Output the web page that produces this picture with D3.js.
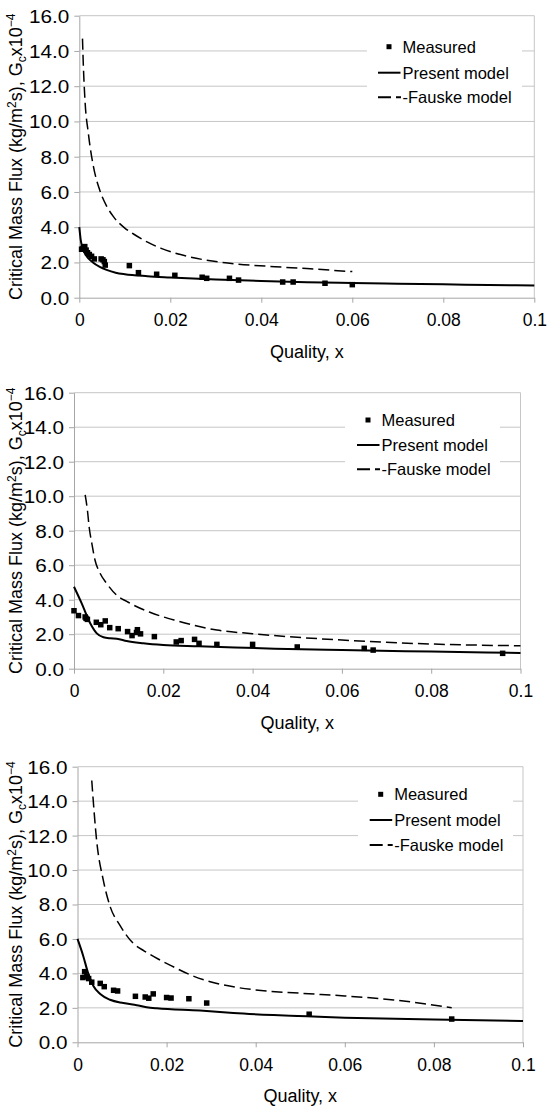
<!DOCTYPE html>
<html>
<head>
<meta charset="utf-8">
<script src="https://cdn.jsdelivr.net/npm/d3@7"></script>
<style>
  body { margin: 0; background: #fff; }
  text { font-family: "Liberation Sans", Arial, sans-serif; fill: #000; }
  .axis path, .axis line { stroke: #a6a6a6; }
</style>
</head>
<body>
<div id="chart"></div>
<script>
//-----------------------------DATA-----------------------------//
const xTicks = [0, 0.02, 0.04, 0.06, 0.08, 0.1];
const yTicks = [0, 2, 4, 6, 8, 10, 12, 14, 16];
const legendLabels = ["Measured", "Present model", "Fauske model"];
const xTitle = "Quality, x";

// panel 1
const measured1 = [[0.0005,2.75],[0.0008,2.8],[0.0012,2.9],[0.0015,2.7],[0.0018,2.55],[0.0022,2.45],
  [0.0027,2.35],[0.0033,2.2],[0.0048,2.2],[0.0052,2.15],[0.0055,2.05],[0.0057,1.85],[0.011,1.82],
  [0.013,1.42],[0.017,1.33],[0.021,1.27],[0.027,1.16],[0.028,1.1],[0.033,1.1],[0.035,1.0],
  [0.0447,0.89],[0.047,0.89],[0.054,0.82],[0.060,0.74]];
const present1 = [[0,4.0],[0.0003,3.3],[0.0008,2.75],[0.0015,2.4],[0.003,2.0],[0.0045,1.75],[0.006,1.58],
  [0.008,1.42],[0.01,1.33],[0.015,1.22],[0.02,1.15],[0.03,1.03],[0.04,0.95],[0.05,0.88],[0.06,0.83],
  [0.07,0.79],[0.08,0.76],[0.09,0.72],[0.1,0.69]];
const fauske1 = [[0.0007,14.7],[0.0009,13.1],[0.00125,11.2],[0.002,9.3],[0.0031,7.45],[0.0045,6.1],
  [0.006,5.2],[0.0075,4.6],[0.01,3.95],[0.012,3.6],[0.015,3.15],[0.018,2.8],[0.024,2.33],[0.03,2.05],
  [0.035,1.9],[0.043,1.76],[0.05,1.65],[0.06,1.48]];

// panel 2
const measured2 = [[0,3.36],[0.001,3.08],[0.0025,3.0],[0.0027,2.92],[0.003,2.86],[0.005,2.69],[0.006,2.55],
  [0.007,2.77],[0.008,2.38],[0.0099,2.32],[0.012,2.15],[0.013,1.92],[0.014,2.1],[0.0142,2.26],
  [0.0149,2.02],[0.018,1.86],[0.0229,1.55],[0.024,1.63],[0.027,1.7],[0.028,1.47],[0.032,1.41],
  [0.04,1.41],[0.05,1.26],[0.065,1.18],[0.067,1.08],[0.096,0.89]];
const present2 = [[0,4.75],[0.0017,3.8],[0.0036,2.65],[0.0051,2.05],[0.0066,1.82],[0.0081,1.76],[0.0096,1.74],
  [0.0118,1.6],[0.0155,1.47],[0.02,1.37],[0.028,1.3],[0.036,1.23],[0.045,1.16],[0.06,1.08],[0.08,0.99],
  [0.1,0.91]];
const fauske2 = [[0.0025,10.07],[0.003,9.2],[0.0034,8.2],[0.004,7.25],[0.0047,6.3],[0.0058,5.55],
  [0.0073,4.95],[0.0096,4.25],[0.0118,3.9],[0.017,3.27],[0.023,2.78],[0.032,2.24],[0.04,2.03],
  [0.05,1.82],[0.06,1.66],[0.08,1.43],[0.1,1.33]];

// panel 3
const measured3 = [[0.0012,3.76],[0.0016,4.1],[0.0021,3.81],[0.0025,3.7],[0.0032,3.49],[0.0051,3.42],
  [0.006,3.23],[0.0081,3.02],[0.009,2.98],[0.013,2.67],[0.0152,2.63],[0.016,2.56],[0.017,2.81],
  [0.02,2.6],[0.021,2.57],[0.025,2.53],[0.029,2.28],[0.052,1.63],[0.084,1.35]];
const present3 = [[0,6.0],[0.0013,5.0],[0.0024,4.0],[0.0036,3.25],[0.0051,2.8],[0.0073,2.47],[0.0103,2.28],
  [0.0133,2.15],[0.0155,2.04],[0.0178,1.97],[0.0275,1.84],[0.035,1.7],[0.044,1.58],[0.06,1.43],
  [0.08,1.33],[0.1,1.24]];
const fauske3 = [[0.0032,15.2],[0.0043,11.7],[0.0058,9.4],[0.0073,7.9],[0.0095,6.8],[0.0125,5.75],
  [0.015,5.3],[0.018,4.85],[0.021,4.45],[0.025,3.95],[0.03,3.5],[0.035,3.22],[0.04,3.04],[0.05,2.85],
  [0.06,2.69],[0.071,2.46],[0.084,2.0]];

//------------------------1. PREPARATION------------------------//
const width = 550;
const height = 1108;

const svg = d3.select("#chart").append("svg")
    .attr("width", width)
    .attr("height", height);

// plot boxes, legend placement per panel
const boxes = [
  {left: 79.3, right: 534.3, top: 15.7, bottom: 297.7, lgBox: [367, 32, 155, 80], lgX: 389, lgY: 46.7, lgStep: [26, 24.6]},
  {left: 74, right: 520.5, top: 392.7, bottom: 668.7, lgBox: [345, 406, 155, 78], lgX: 368, lgY: 420, lgStep: [25, 24.3]},
  {left: 77.5, right: 523, top: 766.7, bottom: 1042.3, lgBox: [358, 780, 155, 80], lgX: 380.7, lgY: 794.3, lgStep: [25.7, 25]}
];

function drawPanel(box, measured, present, fauske) {
    const g = svg.append("g");

    //----------------------------SCALES----------------------------//
    const xScale = d3.scaleLinear().domain([0, 0.1]).range([box.left, box.right]);
    const yScale = d3.scaleLinear().domain([0, 16]).range([box.bottom, box.top]);

    //----------------------------GRID------------------------------//
    g.append("g").selectAll("line")
        .data(yTicks.slice(1))
        .enter().append("line")
        .attr("x1", box.left).attr("x2", box.right)
        .attr("y1", d => yScale(d)).attr("y2", d => yScale(d))
        .attr("stroke", "#c6c6c6").attr("stroke-width", 1);

    g.append("line")
        .attr("x1", box.right).attr("x2", box.right)
        .attr("y1", box.top).attr("y2", box.bottom)
        .attr("stroke", "#c6c6c6").attr("stroke-width", 1);

    //-----------------------------AXES-----------------------------//
    const yaxis = d3.axisLeft(yScale)
        .tickValues(yTicks)
        .tickFormat(d3.format(".1f"))
        .tickSize(5).tickSizeOuter(0).tickPadding(5);

    const xaxis = d3.axisBottom(xScale)
        .tickValues(xTicks)
        .tickFormat(d3.format("~g"))
        .tickSize(5).tickSizeOuter(0).tickPadding(11);

    // y labels in the source are drawn wide, so stretch them a little
    g.append("g")
        .attr("class", "axis")
        .attr("transform", "translate(" + box.left + ",0)")
        .call(yaxis)
        .selectAll("text")
            .style("font-size", "18px")
            .attr("x", 0)
            .attr("dy", "0.36em")
            .attr("transform", "translate(-10,0) scale(1.15,1)");

    g.append("g")
        .attr("class", "axis")
        .attr("transform", "translate(0," + box.bottom + ")")
        .call(xaxis)
        .selectAll("text")
            .style("font-size", "17.5px");

    g.append("text")
        .attr("x", (box.left + box.right) / 2)
        .attr("y", box.bottom + 60)
        .attr("text-anchor", "middle")
        .style("font-size", "18px")
        .text(xTitle);

    const yt = g.append("text")
        .attr("transform", "translate(22," + (box.top + box.bottom) / 2 + ") rotate(-90)")
        .attr("text-anchor", "middle")
        .style("font-size", "18px");
    yt.append("tspan").text("Critical Mass Flux (kg/m");
    yt.append("tspan").attr("dy", -6).style("font-size", "12px").text("2");
    yt.append("tspan").attr("dy", 6).text("s), G");
    yt.append("tspan").attr("dy", 4).style("font-size", "12px").text("c");
    yt.append("tspan").attr("dy", -4).text("x10");
    yt.append("tspan").attr("dy", -7).style("font-size", "12px").text("\u22124");

    //----------------------------LINES-----------------------------//
    const line = d3.line()
        .curve(d3.curveMonotoneX)
        .x(d => xScale(d[0]))
        .y(d => yScale(d[1]));

    g.append("path")
        .attr("d", line(fauske))
        .attr("fill", "none")
        .attr("stroke", "#000")
        .attr("stroke-width", 1.5)
        .attr("stroke-dasharray", "11,5");

    g.append("path")
        .attr("d", line(present))
        .attr("fill", "none")
        .attr("stroke", "#000")
        .attr("stroke-width", 2);

    g.append("g").selectAll("rect")
        .data(measured)
        .enter().append("rect")
        .attr("x", d => xScale(d[0]) - 2.75)
        .attr("y", d => yScale(d[1]) - 2.75)
        .attr("width", 5.5).attr("height", 5.5)
        .attr("fill", "#000");

    //----------------------------LEGEND----------------------------//
    const lb = box.lgBox;
    g.append("rect")
        .attr("x", lb[0]).attr("y", lb[1])
        .attr("width", lb[2]).attr("height", lb[3])
        .attr("fill", "#fff");

    const rows = [box.lgY, box.lgY + box.lgStep[0], box.lgY + box.lgStep[0] + box.lgStep[1]];
    const tx = box.lgX + 13.5;

    g.append("rect")
        .attr("x", box.lgX - 2.5).attr("y", rows[0] - 2.5)
        .attr("width", 5).attr("height", 5)
        .attr("fill", "#000");

    g.append("line")
        .attr("x1", box.lgX - 11).attr("x2", tx - 2)
        .attr("y1", rows[1]).attr("y2", rows[1])
        .attr("stroke", "#000").attr("stroke-width", 2);

    g.append("line")
        .attr("x1", box.lgX - 11).attr("x2", tx - 1.5)
        .attr("y1", rows[2]).attr("y2", rows[2])
        .attr("stroke", "#000").attr("stroke-width", 2)
        .attr("stroke-dasharray", "13,5");

    g.selectAll(".lg")
        .data(legendLabels)
        .enter().append("text")
        .attr("x", tx)
        .attr("y", (d, i) => rows[i])
        .attr("dy", "0.36em")
        .style("font-size", "16.5px")
        .text(d => (d === "Fauske model" ? "-" : "") + d);
}

//-------------------------2. DRAWING---------------------------//
drawPanel(boxes[0], measured1, present1, fauske1);
drawPanel(boxes[1], measured2, present2, fauske2);
drawPanel(boxes[2], measured3, present3, fauske3);
</script>
</body>
</html>
